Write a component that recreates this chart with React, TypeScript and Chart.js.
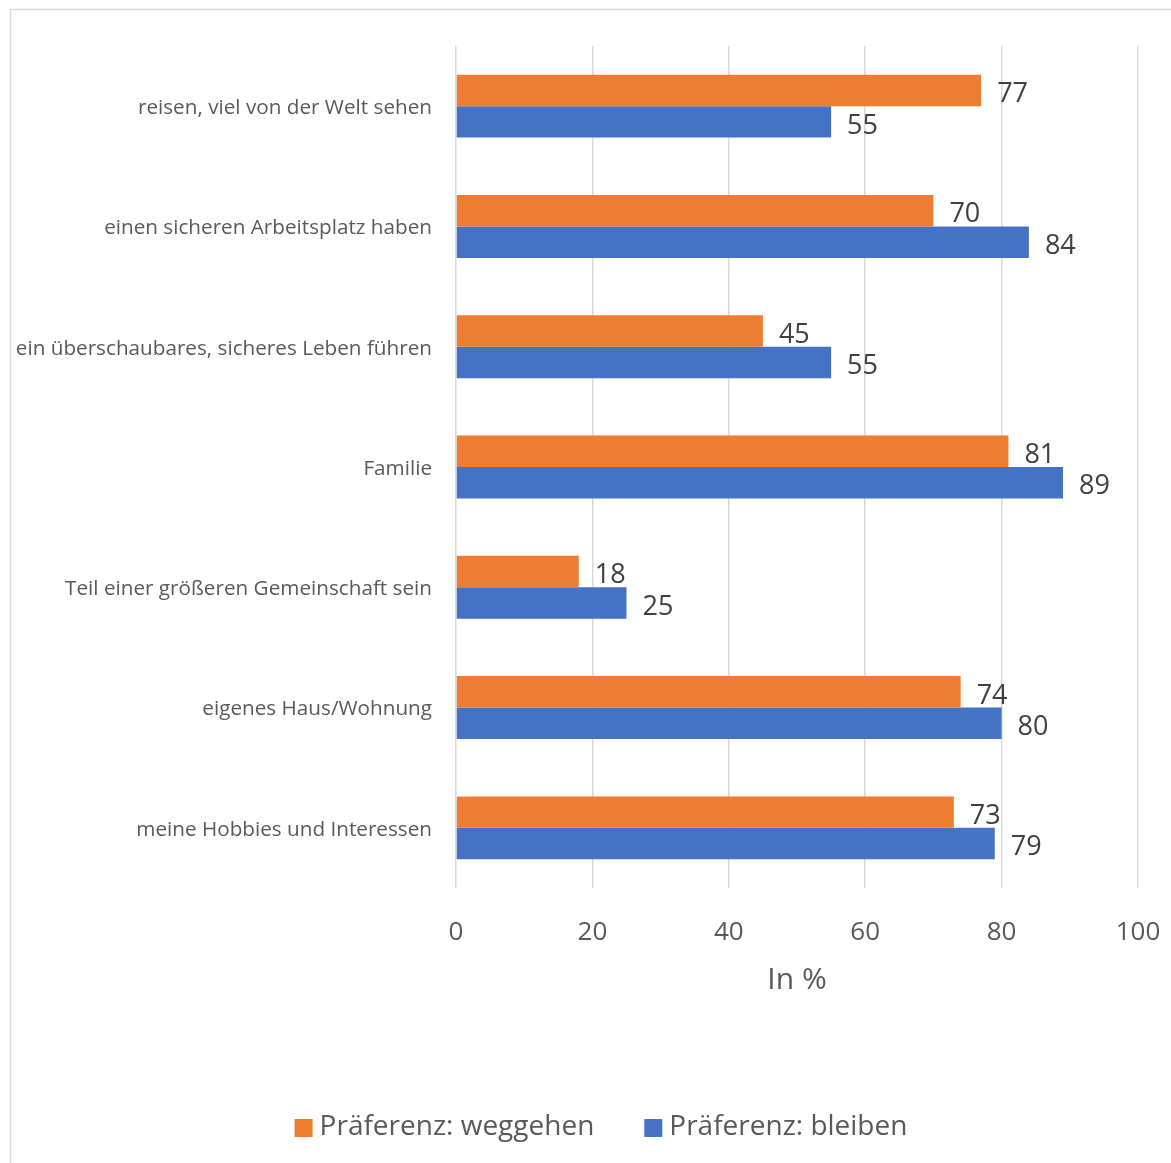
import React, { useEffect, useRef } from "react";
import { Chart, registerables } from "chart.js";

Chart.register(...registerables);

const categories = [
  "reisen, viel von der Welt sehen",
  "einen sicheren Arbeitsplatz haben",
  "ein überschaubares, sicheres Leben führen",
  "Familie",
  "Teil einer größeren Gemeinschaft sein",
  "eigenes Haus/Wohnung",
  "meine Hobbies und Interessen",
];
const seriesNames = ["Präferenz: weggehen", "Präferenz: bleiben"];
const seriesColors = ["#ED7D31", "#4472C4"];
const weggehen = [77, 70, 45, 81, 18, 74, 73];
const bleiben = [55, 84, 55, 89, 25, 80, 79];
const xTicks = [0, 20, 40, 60, 80, 100];
const axisTitle = "In %";

const FONT = "'Open Sans', 'DejaVu Sans', sans-serif";

const frame = {
  id: "frame",
  beforeDraw(chart: any) {
    const ctx = chart.ctx;
    ctx.save();
    ctx.strokeStyle = "#d9d9d9";
    ctx.lineWidth = 1.5;
    ctx.beginPath();
    ctx.moveTo(10.5, chart.height);
    ctx.lineTo(10.5, 9.5);
    ctx.lineTo(chart.width, 9.5);
    ctx.stroke();
    ctx.restore();
  },
};

const dataLabels = {
  id: "dataLabels",
  afterDatasetsDraw(chart: any) {
    const ctx = chart.ctx;
    ctx.save();
    ctx.font = `27px ${FONT}`;
    ctx.fillStyle = "#404040";
    ctx.textAlign = "left";
    ctx.textBaseline = "middle";
    chart.data.datasets.forEach((ds: any, i: number) => {
      const meta = chart.getDatasetMeta(i);
      meta.data.forEach((el: any, j: number) => {
        ctx.fillText(String(ds.data[j]), el.x + 16, el.y + 4);
      });
    });
    ctx.restore();
  },
};

const bottomLegend = {
  id: "bottomLegend",
  afterDraw(chart: any) {
    const ctx = chart.ctx;
    ctx.save();
    ctx.font = `28px ${FONT}`;
    ctx.textBaseline = "middle";
    ctx.textAlign = "left";
    const items = chart.data.datasets.map((ds: any) => ({
      text: ds.label,
      color: ds.backgroundColor,
      w: ctx.measureText(ds.label).width,
    }));
    const box = 18;
    const gap = 7;
    const itemGap = 50;
    const total = items.reduce((s: number, it: any) => s + box + gap + it.w, 0) + itemGap * (items.length - 1);
    const centerX = 601;
    const cy = 1127;
    let x = centerX - total / 2;
    items.forEach((it: any) => {
      ctx.fillStyle = it.color;
      ctx.fillRect(x, cy - box / 2 + 1, box, box);
      ctx.fillStyle = "#595959";
      ctx.fillText(it.text, x + box + gap, cy);
      x += box + gap + it.w + itemGap;
    });
    ctx.restore();
  },
};

export default function App() {
  const ref = useRef<HTMLCanvasElement>(null);
  useEffect(() => {
    if (!ref.current) return;
    const chart = new Chart(ref.current, {
      type: "bar",
      data: {
        labels: categories,
        datasets: [
          {
            label: seriesNames[0],
            data: weggehen,
            backgroundColor: seriesColors[0],
            borderWidth: 0,
            categoryPercentage: 0.523,
            barPercentage: 1,
          },
          {
            label: seriesNames[1],
            data: bleiben,
            backgroundColor: seriesColors[1],
            borderWidth: 0,
            categoryPercentage: 0.523,
            barPercentage: 1,
          },
        ],
      },
      options: {
        indexAxis: "y",
        responsive: false,
        animation: false,
        layout: { padding: { top: 46, right: 33, bottom: 100, left: 0 } },
        plugins: {
          legend: { display: false },
          tooltip: { enabled: false },
          title: { display: false },
        },
        scales: {
          x: {
            min: 0,
            max: 100,
            afterBuildTicks(scale: any) {
              scale.ticks = xTicks.map((v) => ({ value: v }));
            },
            afterFit(scale: any) {
              scale.height = 175;
              scale.paddingRight = 0;
              scale.paddingLeft = 0;
            },
            grid: { color: "#d9d9d9", lineWidth: 1.5, drawTicks: false },
            border: { display: false },
            ticks: {
              font: { family: FONT, size: 26 },
              color: "#595959",
              padding: 29,
              maxRotation: 0,
            },
            title: {
              display: true,
              text: axisTitle,
              font: { family: FONT, size: 30 },
              color: "#595959",
              padding: { top: 15, bottom: 65 },
            },
          },
          y: {
            grid: { display: false, drawTicks: false },
            border: { display: false },
            ticks: {
              font: { family: FONT, size: 20.7 },
              color: "#595959",
              padding: 24,
              labelOffset: 2,
            },
            afterFit(scale: any) {
              scale.width = 456;
            },
          },
        },
      },
      plugins: [frame, dataLabels, bottomLegend],
    } as any);
    return () => chart.destroy();
  }, []);
  return (
    <div style={{ position: "absolute", left: 0, top: 0, width: 1171, height: 1163, background: "#fff" }}>
      <canvas ref={ref} width={1171} height={1163} style={{ display: "block" }} />
    </div>
  );
}
